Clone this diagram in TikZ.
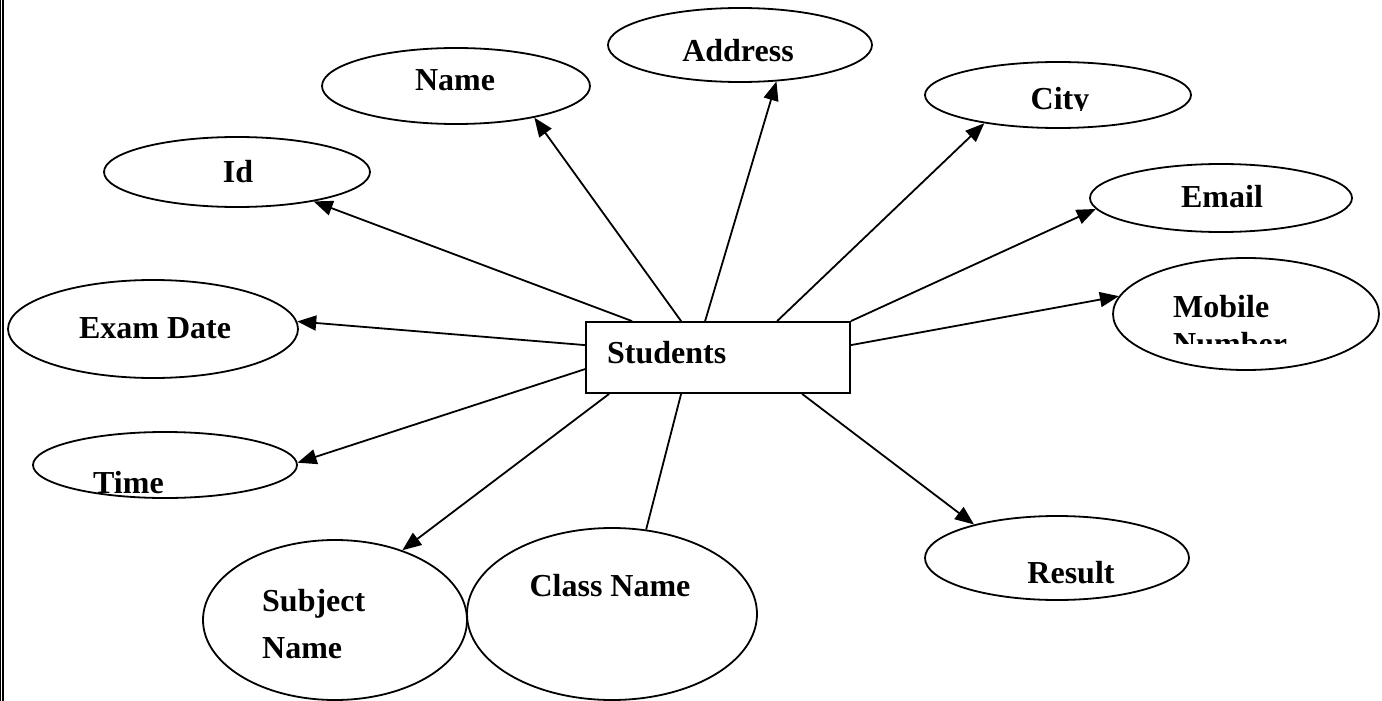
\documentclass[tikz,border=0pt]{standalone}
\usepackage{fontspec}
\setmainfont{Liberation Serif}
\usetikzlibrary{shapes.geometric,arrows.meta}

\begin{document}
\begin{tikzpicture}[x=1pt,y=-1pt]
		\tikzstyle{attr}=[draw, ellipse, line width=1.8pt, inner sep=0pt];
		\tikzstyle{entity}=[draw, rectangle, line width=1.8pt, inner sep=0pt];
		\tikzstyle{lbl}=[font=\fontsize{32}{37}\selectfont\bfseries, inner sep=0pt, anchor=base];
		\tikzstyle{link}=[line width=1.8pt, -{Triangle[length=19pt,width=15pt]}];

		\useasboundingbox (0,0) rectangle (1382,701);

		% page frame on the left
		\draw[line width=1.3pt] (0.7,0) -- (0.7,701);
		\draw[line width=1.3pt] (3,0) -- (3,701);

		% entity
		\node[entity, minimum width=264pt, minimum height=71pt] (st) at (718,357.5) {};
		\node[lbl, anchor=base west] (st-t) at (607,363) {Students};

		% attributes
		\node[attr, minimum width=266pt, minimum height=70pt] (id) at (237,172) {};
		\node[attr, minimum width=268pt, minimum height=76pt] (name) at (456,86) {};
		\node[attr, minimum width=264pt, minimum height=74pt] (addr) at (740,45) {};
		\node[attr, minimum width=266pt, minimum height=66pt] (city) at (1058,95) {};
		\node[attr, minimum width=262pt, minimum height=68pt] (email) at (1221,198) {};
		\node[attr, minimum width=266pt, minimum height=112pt] (mob) at (1246,314) {};
		\node[attr, minimum width=290pt, minimum height=98pt] (exam) at (153,329) {};
		\node[attr, minimum width=264pt, minimum height=66pt] (time) at (165,465) {};
		\node[attr, minimum width=264pt, minimum height=160pt] (subj) at (335,620) {};
		\node[attr, minimum width=290pt, minimum height=172pt] (cls) at (612,614) {};
		\node[attr, minimum width=264pt, minimum height=84pt] (res) at (1057,558) {};

		% labels
		\node[lbl] (id-t) at (238,182) {Id};
		\node[lbl] (name-t) at (455,91) {Name};
		\node[lbl] (addr-t) at (738,62) {Address};
		\node[lbl] (email-t) at (1222,207) {Email};
		\node[lbl] (exam-t) at (155,338) {Exam Date};
		\node[lbl, anchor=base west] (time-t) at (93,493) {Time};
		\node[lbl, anchor=base west, align=left, font=\fontsize{32}{47}\selectfont\bfseries] (subj-t) at (262,658) {Subject\\Name};
		\node[lbl] (cls-t) at (610,596) {Class Name};
		\node[lbl] (res-t) at (1071,583) {Result};
		\begin{scope}
			\clip (930,70) rectangle (1190,110);
			\node[lbl] (city-t) at (1060,110) {City};
		\end{scope}
		\begin{scope}
			\clip (1120,280) rectangle (1370,343);
			\node[lbl, anchor=base west, align=left] (mob-t) at (1173,354) {Mobile\\Number};
		\end{scope}

		% connectors
		\draw[link] ([xshift=47pt]st.north west) -- (id.-21);
		\draw[link] ([xshift=96pt]st.north west) -- (name.-22);
		\draw[link] ([xshift=120pt]st.north west) -- (addr.-45);
		\draw[link] ([xshift=192pt]st.north west) -- (city.201);
		\draw[link] (st.north east) -- (email.185);
		\draw[link] ([yshift=-24pt]st.north east) -- (mob.172);
		\draw[link] ([yshift=-24pt]st.north west) -- (exam.3);
		\draw[link] ([yshift=-48pt]st.north west) -- (time.1);
		\draw[link] ([xshift=24pt]st.south west) -- (subj.46);
		\draw[line width=1.8pt] ([xshift=96pt]st.south west) -- (cls.68);
		\draw[link] ([xshift=217pt]st.south west) -- (res.158);
	\end{tikzpicture}
\end{document}
